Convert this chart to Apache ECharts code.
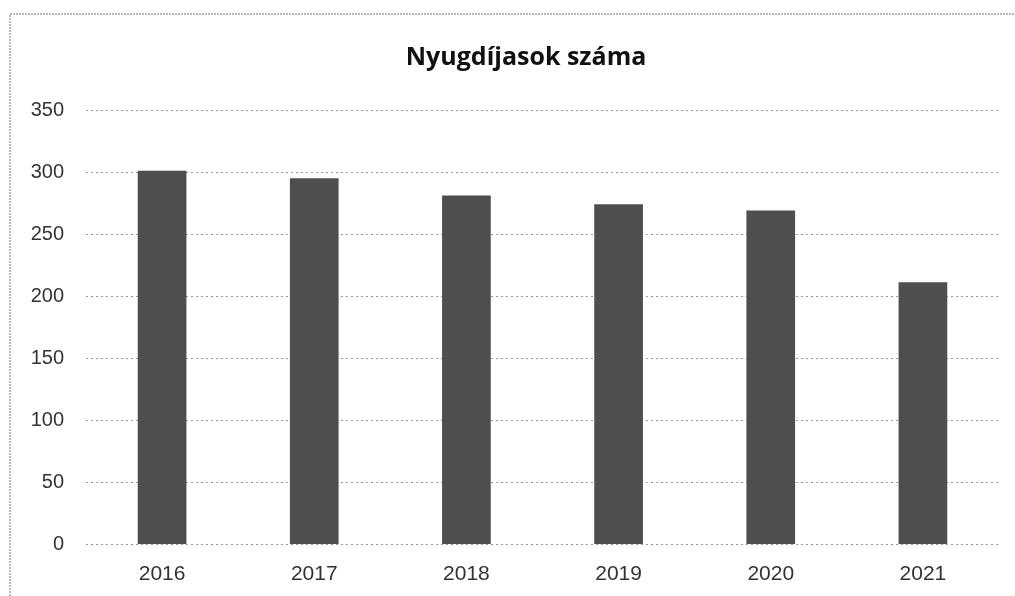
<!DOCTYPE html>
<html>
<head>
<meta charset="utf-8">
<script src="https://cdn.jsdelivr.net/npm/echarts@6/dist/echarts.min.js"></script>
<style>
  html, body { margin: 0; padding: 0; background: #fff; }
  #chart { width: 1015px; height: 596px; }
</style>
</head>
<body>
<div id="chart"></div>
<script>
var years = ['2016', '2017', '2018', '2019', '2020', '2021'];
var pensioners = [301, 295, 281, 274, 269, 211];
var yTicks = [0, 50, 100, 150, 200, 250, 300, 350];

var chart = echarts.init(document.getElementById('chart'));

var option = {
  backgroundColor: '#fff',
  animation: false,
  title: {
    text: 'Nyugdíjasok száma',
    left: 521,
    textAlign: 'center',
    top: 40,
    textStyle: {
      fontFamily: 'Open Sans',
      fontWeight: 'bold',
      fontSize: 25,
      color: '#111'
    }
  },
  // chart border (only left and top edges are visible in the scan)
  graphic: [{
    type: 'rect',
    shape: { x: 10, y: 14, width: 1030, height: 620 },
    style: { fill: 'none', stroke: '#777', lineWidth: 1, lineDash: [2, 1] },
    silent: true
  }],
  grid: {
    left: 86,
    right: 16,
    top: 110,
    bottom: 52
  },
  xAxis: {
    type: 'category',
    data: years,
    axisLine: { show: false },
    axisTick: { show: false },
    axisLabel: {
      margin: 20,
      fontFamily: 'Liberation Sans',
      fontSize: 21,
      color: '#333'
    }
  },
  yAxis: {
    type: 'value',
    min: yTicks[0],
    max: yTicks[yTicks.length - 1],
    interval: 50,
    axisLine: { show: false },
    axisTick: { show: false },
    axisLabel: {
      margin: 22,
      fontFamily: 'Liberation Sans',
      fontSize: 20,
      color: '#333'
    },
    splitLine: {
      lineStyle: { color: '#999', type: [2, 3], width: 1 }
    }
  },
  series: [{
    type: 'bar',
    data: pensioners,
    barCategoryGap: '68%',
    itemStyle: {
      color: '#4e4e4e'
    }
  }]
};

chart.setOption(option);
</script>
</body>
</html>
